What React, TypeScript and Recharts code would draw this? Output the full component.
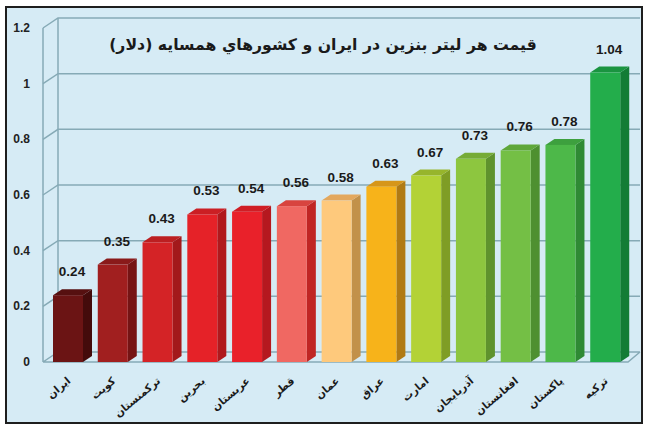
import React from 'react';
import { BarChart, Bar, XAxis, YAxis, CartesianGrid, LabelList } from 'recharts';

const countries = ['ایران', 'کویت', 'ترکمنستان', 'بحرین', 'عربستان', 'قطر', 'عمان', 'عراق', 'امارت', 'آذربایجان', 'افغانستان', 'پاکستان', 'ترکیه'];
const prices = [0.24, 0.35, 0.43, 0.53, 0.54, 0.56, 0.58, 0.63, 0.67, 0.73, 0.76, 0.78, 1.04];
const frontColors = ['#6b1414', '#a11f1f', '#d42326', '#e52228', '#e9212a', '#f06862', '#fec97c', '#f7b31a', '#b3d236', '#8dc63f', '#74bf45', '#4db849', '#23ad4b'];
const sideColors = ['#440b0b', '#761414', '#a3191b', '#b0191d', '#b5181f', '#c02624', '#c2914a', '#b07a14', '#7f9d25', '#5f932d', '#4e9030', '#2f8a34', '#137c35'];
const topColors = ['#561010', '#8a1a1a', '#bc1f21', '#cb1f24', '#d01e25', '#d8443f', '#e3a85e', '#d6961a', '#97b52c', '#76ab36', '#5fa73a', '#3da03e', '#1a9440'];
const yTicks = [0, 0.2, 0.4, 0.6, 0.8, 1, 1.2];
const titleText = 'قیمت هر لیتر بنزین در ایران و کشورهاي همسايه (دلار)';

const data = countries.map((c, i) => ({
  country: c,
  price: prices[i],
  front: frontColors[i],
  side: sideColors[i],
  top: topColors[i],
}));

const DX = 9;
const DY = 6;
const WALL_DX = 12;
const WALL_DY = 10;
const GRID = '#86aab6';

const Bar3D = (props: any) => {
  const { x, y, width, height, payload } = props;
  if (width == null || height == null) return null;
  const b = y + height;
  return (
    <g>
      <polygon points={`${x + width},${y} ${x + width + DX},${y - DY} ${x + width + DX},${b - DY} ${x + width},${b}`} fill={payload.side} />
      <polygon points={`${x},${y} ${x + DX},${y - DY} ${x + width + DX},${y - DY} ${x + width},${y}`} fill={payload.top} />
      <rect x={x} y={y} width={width} height={height} fill={payload.front} />
    </g>
  );
};

const gridLine = (p: any) => {
  const { x1, y1, x2, index, y, height } = p;
  const fx = x1 - 3;
  const bx = x1 + WALL_DX;
  let d = `M${fx},${y1} L${bx},${y1 - WALL_DY} L${x2 + WALL_DX},${y1 - WALL_DY}`;
  if (Math.abs(y1 - (y + height)) < 1) {
    d += ` M${fx},${y1} L${x2},${y1} L${x2 + WALL_DX},${y1 - WALL_DY}`;
  }
  if (index === 0) {
    d += ` M${fx},${y} L${fx},${y + height} M${bx},${y - WALL_DY} L${bx},${y + height - WALL_DY}`;
  }
  return <path key={`g-${index}`} d={d} stroke={GRID} strokeWidth={1.5} fill="none" />;
};

const YTick = (props: any) => {
  const { y, payload } = props;
  return (
    <text x={30} y={y + 4} textAnchor="end" fontFamily="Liberation Sans, Arial, sans-serif" fontWeight="bold" fontSize={12} fill="#222">
      {String(payload.value)}
    </text>
  );
};

const XTick = (props: any) => {
  const { x, y, payload } = props;
  const ax = x + 3;
  const ay = y + 12;
  return (
    <text x={ax} y={ay} transform={`rotate(-40 ${ax} ${ay})`} textAnchor="end" fontFamily="DejaVu Sans, sans-serif" fontWeight="bold" fontSize={10.5} fill="#1a1a1a">
      {payload.value}
    </text>
  );
};

const ValueLabel = (props: any) => {
  const { x, y, width, value } = props;
  return (
    <text x={x + width / 2 + 4} y={y - 19} textAnchor="middle" fontFamily="Liberation Sans, Arial, sans-serif" fontWeight="bold" fontSize={13.5} fill="#1a1a1a">
      {Number(value).toFixed(2)}
    </text>
  );
};

export default function App() {
  return (
    <div style={{ position: 'absolute', left: 0, top: 0, width: 650, height: 432, background: '#ffffff' }}>
      <div style={{ position: 'absolute', left: 5, top: 6, width: 634, height: 414, border: '2px solid #1e1e1e', background: '#d6ebf5' }} />
      <div style={{ position: 'absolute', left: 0, top: 0 }}>
        <BarChart width={650} height={432} data={data} margin={{ top: 28, right: 22, left: 0, bottom: 0 }} barCategoryGap={0} barSize={30}>
          <CartesianGrid vertical={false} horizontal={gridLine} />
          <XAxis dataKey="country" height={70} axisLine={false} tickLine={false} interval={0} tick={<XTick />} />
          <YAxis width={46} domain={[0, 1.2]} ticks={yTicks} axisLine={false} tickLine={false} tick={<YTick />} />
          <Bar dataKey="price" shape={<Bar3D />} isAnimationActive={false}>
            <LabelList dataKey="price" content={<ValueLabel />} />
          </Bar>
        </BarChart>
      </div>
      <div dir="rtl" style={{ position: 'absolute', left: 0, top: 33, width: 646, textAlign: 'center', fontFamily: 'DejaVu Sans, sans-serif', fontWeight: 'bold', fontSize: 15.7, color: '#1a1a1a', lineHeight: '24px' }}>
        {titleText}
      </div>
    </div>
  );
}
